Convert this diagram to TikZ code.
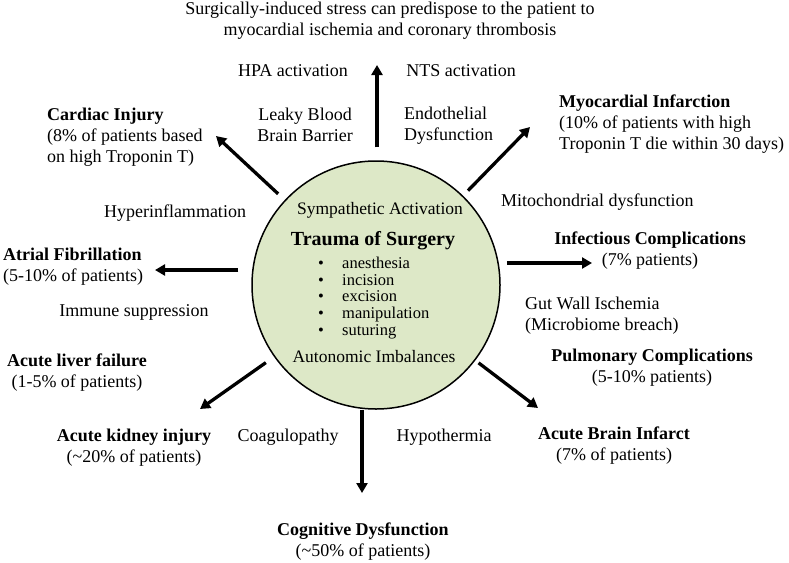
\documentclass[tikz,border=0pt]{standalone}
\usepackage{fontspec}
\setmainfont{Liberation Serif}
\usetikzlibrary{arrows.meta}
\definecolor{circfill}{RGB}{221,232,199}
\begin{document}
\begin{tikzpicture}[x=1pt,y=-1pt,
  txt/.style={font=\fontsize{18}{21}\selectfont, inner sep=0pt, align=center},
  ltxt/.style={txt, align=left},
  inner/.style={font=\fontsize{17.5}{21}\selectfont, inner sep=0pt},
  arr/.style={line width=3.3pt, -{Triangle[length=10pt,width=11pt]}},
]
\useasboundingbox (0,0) rectangle (789,562);
\node[circle, draw, line width=1.5pt, fill=circfill, minimum size=248pt, inner sep=0pt] (c) at (376,285) {};

% inner texts
\node[inner] (symp) at (380,210) {Sympathetic Activation};
\node[inner, font=\fontsize{20}{24}\selectfont\bfseries] (trauma) at (373,241) {Trauma of Surgery};
\node[anchor=west, inner sep=0pt, align=left, font=\fontsize{16.5}{16.7}\selectfont] (list) at (318,298)
  {\makebox[24pt][l]{\textbullet}anesthesia\\
   \makebox[24pt][l]{\textbullet}incision\\
   \makebox[24pt][l]{\textbullet}excision\\
   \makebox[24pt][l]{\textbullet}manipulation\\
   \makebox[24pt][l]{\textbullet}suturing};
\node[inner] (auto) at (374,357) {Autonomic Imbalances};

% top
\node[txt] (title) at (390,21) {Surgically-induced stress can predispose to the patient to\\myocardial ischemia and coronary thrombosis};
\node[txt] (hpa) at (293,71) {HPA activation};
\node[txt] (nts) at (461,71) {NTS activation};
\node[txt] (leaky) at (305,125) {Leaky Blood\\Brain Barrier};
\node[ltxt, anchor=west] (endo) at (404,125.5) {Endothelial\\Dysfunction};

% upper left / right
\node[ltxt, anchor=west] (cardiac) at (47,137) {\textbf{Cardiac Injury}\\(8\% of patients based\\on high Troponin T)};
\node[ltxt, anchor=west] (myo) at (559,124) {\textbf{Myocardial Infarction}\\(10\% of patients with high\\Troponin T die within 30 days)};
\node[txt] (hyper) at (175,213) {Hyperinflammation};
\node[ltxt, anchor=west] (mito) at (501,202) {Mitochondrial dysfunction};

% sides
\node[ltxt, anchor=west] (atrial) at (3,266.5) {\textbf{Atrial Fibrillation}\\(5-10\% of patients)};
\node[txt] (infect) at (650,251) {\textbf{Infectious Complications}\\(7\% patients)};
\node[txt] (immune) at (134,312) {Immune suppression};
\node[ltxt, anchor=west] (gut) at (525,316) {Gut Wall Ischemia\\(Microbiome breach)};

% lower
\node[txt] (liver) at (77,373) {\textbf{Acute liver failure}\\(1-5\% of patients)};
\node[txt] (pulm) at (652,367.5) {\textbf{Pulmonary Complications}\\(5-10\% patients)};
\node[txt] (kidney) at (134,447.5) {\textbf{Acute kidney injury}\\(\textasciitilde20\% of patients)};
\node[txt] (coag) at (288,437) {Coagulopathy};
\node[txt] (hypo) at (444,437) {Hypothermia};
\node[txt] (brain) at (614,445.5) {\textbf{Acute Brain Infarct}\\(7\% of patients)};
\node[txt] (cogn) at (363,542) {\textbf{Cognitive Dysfunction}\\(\textasciitilde50\% of patients)};

% arrow tips
\coordinate (tT) at (377,65);
\coordinate (tUL) at (216,136);
\coordinate (tUR) at (530,127);
\coordinate (tL) at (155,270);
\coordinate (tR) at (592,263);
\coordinate (tLL) at (200,409);
\coordinate (tLR) at (538,408);
\coordinate (tB) at (362,493);

\draw[arr, shorten <=13pt] (tT |- c.north) -- (tT);
\draw[arr, shorten <=9pt] (c) -- (tUL);
\draw[arr, shorten <=7pt] (c) -- (tUR);
\draw[arr, shorten <=13pt] (c.west |- tL) -- (tL);
\draw[arr, shorten <=6pt] (c.east |- tR) -- (tR);
\draw[arr, shorten <=10pt] (c) -- (tLL);
\draw[arr, shorten <=4pt] (c) -- (tLR);
\draw[arr] (tB |- c.south) -- (tB);
\end{tikzpicture}
\end{document}
